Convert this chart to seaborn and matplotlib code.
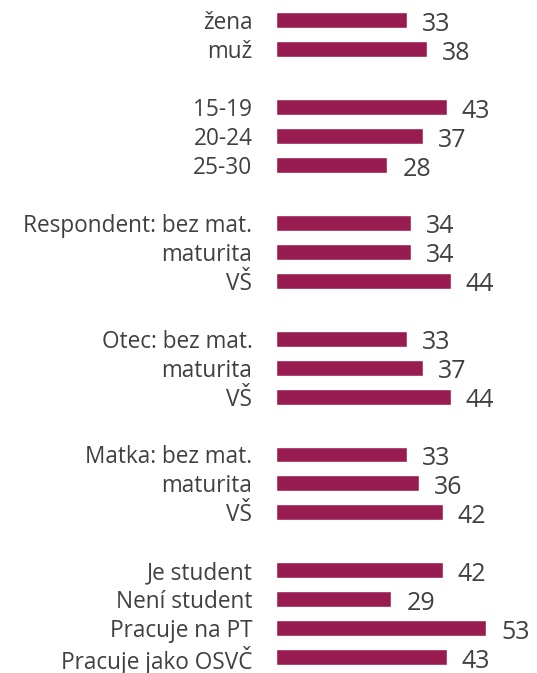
import numpy as np
import pandas as pd
import seaborn as sns
import matplotlib.pyplot as plt

# ---------------------------------------------------------------------------
# Data
# ---------------------------------------------------------------------------
GROUPS = [
    ["žena", "muž"],
    ["15-19", "20-24", "25-30"],
    ["Respondent: bez mat.", "maturita", "VŠ"],
    ["Otec: bez mat.", "maturita", "VŠ"],
    ["Matka: bez mat.", "maturita", "VŠ"],
    ["Je student", "Není student", "Pracuje na PT", "Pracuje jako OSVČ"],
]
VALUES = [33, 38, 43, 37, 28, 34, 34, 44, 33, 37, 44, 33, 36, 42, 42, 29, 53, 43]

BAR_COLOR = "#981c50"
TEXT_COLOR = "#404040"

# positions with one empty slot between groups
labels, positions = [], []
pos = 0
for grp in GROUPS:
    for lab in grp:
        labels.append(lab)
        positions.append(pos)
        pos += 1
    pos += 1

df = pd.DataFrame({"label": labels, "pos": positions, "value": VALUES})

sns.set_theme(style="white")
plt.rcParams["font.family"] = ["Open Sans", "DejaVu Sans"]

fig = plt.figure(figsize=(5.37, 6.73), dpi=100)
ax = fig.add_axes([276 / 537, 0.002, 1 - 276 / 537, 0.9896])

sns.barplot(data=df, x="value", y="pos", orient="h", native_scale=True,
            color=BAR_COLOR, saturation=1, width=0.55, ax=ax)

for p, v in zip(df["pos"], df["value"]):
    ax.annotate(f"{v}", xy=(v, p), xytext=(11, -3), textcoords="offset points",
                ha="left", va="center", fontsize=18, color=TEXT_COLOR)

ax.set_xlim(0, 65.8)
ax.set_ylim(df["pos"].max() + 0.5, -0.5)
ax.set_yticks(df["pos"])
ax.set_yticklabels(df["label"], fontsize=16.3, color=TEXT_COLOR)
ax.tick_params(axis="y", length=0, pad=17)
ax.set_xticks([])
ax.set_xlabel("")
ax.set_ylabel("")
sns.despine(ax=ax, left=True, bottom=True)

fig.savefig("out.png", dpi=100)
